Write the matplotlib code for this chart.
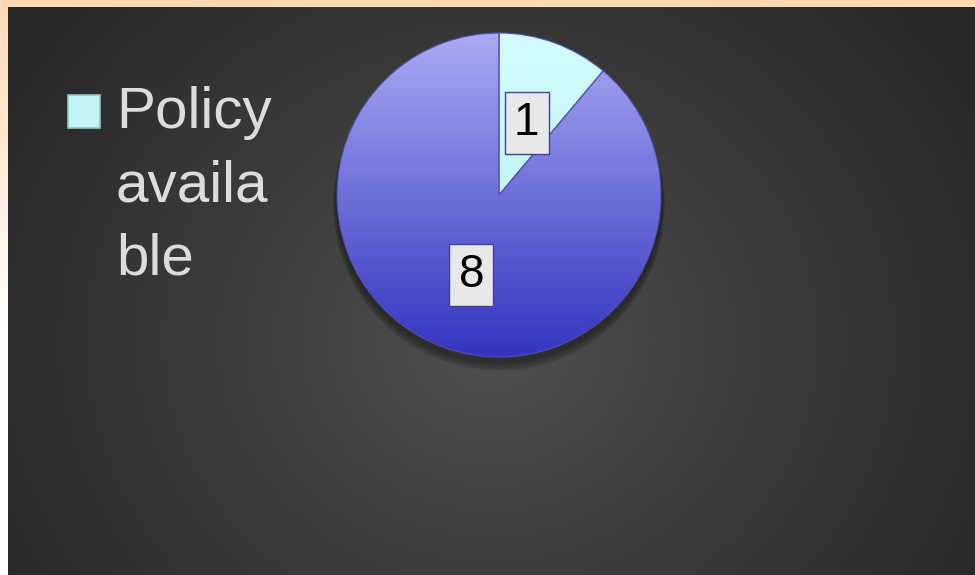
#!/usr/bin/python3
# Pie chart: policy availability

import textwrap

import numpy as np
import matplotlib
matplotlib.use('Agg')
import matplotlib.pyplot as plt
import matplotlib.transforms as mtrans
from matplotlib.colors import LinearSegmentedColormap
from matplotlib.patches import Rectangle

values = [1, 8]
legend_labels = ['Policy available']
slice_top = ['#d4fcfc', '#aaaaf4']
slice_bottom = ['#b4eeee', '#3434c0']

W, H = 975, 575
fig = plt.figure(figsize=(W / 100, H / 100), dpi=100)
fig.patch.set_facecolor('#fdd9b5')

# background: peach strips + dark radial gradient
bg = fig.add_axes([0, 0, 1, 1])
bg.set_axis_off()
yy, xx = np.mgrid[0:H, 0:W]
d = np.sqrt(((xx - 490) / 620.0) ** 2 + ((yy - 340) / 560.0) ** 2)
g = np.clip(0.31 - 0.17 * d, 0.155, 0.34)
img = np.dstack([g, g, g])
t = np.clip(yy[:, :8] / 330.0, 0, 1)
for c, v in enumerate([253, 217, 181]):
    img[:, :8, c] = (v / 255.0) * (1 - t) + 1.0 * t
img[:7, :, :] = np.array([253, 217, 181]) / 255.0
bg.imshow(img, extent=[0, W, H, 0], aspect='auto')
bg.set_xlim(0, W)
bg.set_ylim(H, 0)

# pie
cx, cy, r = 499, 195, 162
ax = fig.add_axes([(cx - r) / W, (H - cy - r) / H, 2 * r / W, 2 * r / H])
ax.set_axis_off()

wedges, texts = ax.pie(values, startangle=90, counterclock=False, radius=1.0,
                       labels=[str(v) for v in values], labeldistance=0.5,
                       wedgeprops=dict(edgecolor='#5050b0', linewidth=0.8))

# soft shadow, mostly below
for k in range(6):
    circ = plt.Circle((0, -0.03 - 0.006 * k), 1.0 + 0.004 * k, color='black',
                      alpha=0.07, zorder=0, clip_on=False)
    ax.add_patch(circ)

grad = np.linspace(0, 1, 256).reshape(-1, 1)
for w, top, bot in zip(wedges, slice_top, slice_bottom):
    cmap = LinearSegmentedColormap.from_list('s', [bot, top])
    im = ax.imshow(grad, extent=[-1, 1, -1, 1], origin='lower', cmap=cmap,
                   aspect='auto', zorder=1)
    im.set_clip_path(w)
    w.set_facecolor('none')
    w.set_zorder(2)

ax.set_xlim(-1, 1)
ax.set_ylim(-1, 1)
ax.set_aspect('equal')

shift = mtrans.offset_copy(ax.transData, fig=fig, x=0, y=-4, units='dots')
for t in texts:
    t.set_transform(shift)
    t.set_fontsize(33)
    t.set_family('Liberation Sans')
    t.set_color('black')
    t.set_ha('center')
    t.set_va('center')
    t.set_zorder(5)
    t.set_bbox(dict(boxstyle='square,pad=0.2', facecolor='#e8e8e8',
                    edgecolor='#4040a0', linewidth=1))

# legend (only visible entry)
fig.patches.append(Rectangle((68 / W, 1 - 128 / H), 32 / W, 33 / H,
                             transform=fig.transFigure, facecolor='#c4f4f4',
                             edgecolor='#8cc8c8', linewidth=1.2, figure=fig))
label = '\n'.join(textwrap.wrap(legend_labels[0], 6))
fig.text(116 / W, 1 - 86 / H, label, fontsize=42, family='Liberation Sans',
         color='#dcdcdc', ha='left', va='top', linespacing=1.46)

fig.savefig('out.png', dpi=100, facecolor=fig.get_facecolor())
